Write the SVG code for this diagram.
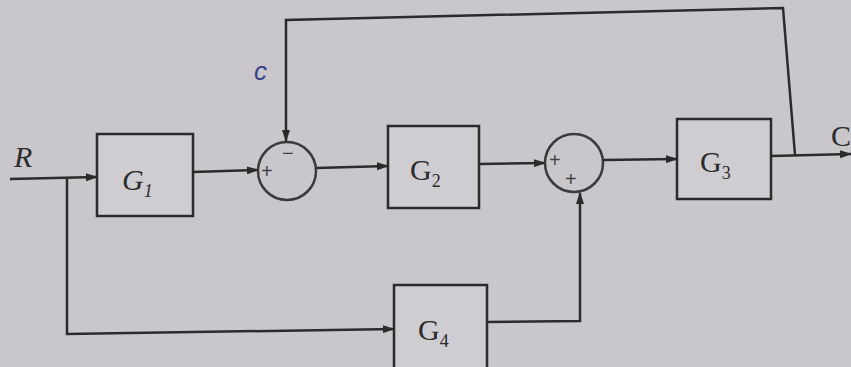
<svg xmlns="http://www.w3.org/2000/svg" width="851" height="367" viewBox="0 0 851 367">
<defs>
<marker id="ah" markerWidth="12" markerHeight="8" refX="11" refY="4" orient="auto" markerUnits="userSpaceOnUse">
<path d="M0,0 L12,4 L0,8 Z" fill="#2b2b2b"/>
</marker>
<style>
.blk{fill:#cfcdd1;stroke:#2b2b2b;stroke-width:2.5}
.sj{fill:none;stroke:#3a3a3a;stroke-width:2.5}
.ln{fill:none;stroke:#2b2b2b;stroke-width:2.5}
.lbl{font-family:"Liberation Serif",serif;font-size:30px;fill:#2b2b2b}
.sub{font-size:18px}
.sg{font-family:"Liberation Sans",sans-serif;font-size:20px;fill:#444}
</style>
</defs>
<rect x="0" y="0" width="851" height="367" fill="#cac7cc"/>
<g id="connectors">
<path class="ln" d="M10,179 L97,177" marker-end="url(#ah)"/>
<path class="ln" d="M67,179 L67,334 L394,329" marker-end="url(#ah)"/>
<path class="ln" d="M193,172 L258,170" marker-end="url(#ah)"/>
<path class="ln" d="M316,168 L388,166" marker-end="url(#ah)"/>
<path class="ln" d="M479,164 L545,163" marker-end="url(#ah)"/>
<path class="ln" d="M603,160 L677,159" marker-end="url(#ah)"/>
<path class="ln" d="M771,156 L851,154" marker-end="url(#ah)"/>
<path class="ln" d="M795,155 L783,8 L286,20 L286,141" marker-end="url(#ah)"/>
<path class="ln" d="M487,322 L580,321 L580,193" marker-end="url(#ah)"/>
</g>
<g id="R"><text class="lbl" x="14" y="167" font-style="italic" font-size="24">R</text></g>
<g id="Cout"><text class="lbl" x="831" y="146" font-size="24">C</text></g>
<g id="Cfb"><text x="254" y="80" font-family="'Liberation Sans',sans-serif" font-size="26" fill="#3b3f8a" font-style="italic">c</text></g>
<g id="G1">
<rect class="blk" x="97" y="134" width="96" height="82"/>
<text class="lbl" x="122" y="190" font-style="italic">G<tspan class="sub" dy="7">1</tspan></text>
</g>
<g id="S1">
<circle class="sj" cx="287" cy="171" r="29"/>
<text class="sg" x="261" y="178">+</text>
<text class="sg" x="282" y="160">−</text>
</g>
<g id="G2">
<rect class="blk" x="388" y="126" width="91" height="82"/>
<text class="lbl" x="410" y="180">G<tspan class="sub" dy="7">2</tspan></text>
</g>
<g id="S2">
<circle class="sj" cx="574" cy="163" r="29"/>
<text class="sg" x="549" y="167">+</text>
<text class="sg" x="565" y="186">+</text>
</g>
<g id="G3">
<rect class="blk" x="677" y="119" width="94" height="80"/>
<text class="lbl" x="700" y="172">G<tspan class="sub" dy="7">3</tspan></text>
</g>
<g id="G4">
<rect class="blk" x="394" y="285" width="93" height="90"/>
<text class="lbl" x="418" y="340">G<tspan class="sub" dy="7">4</tspan></text>
</g>
</svg>
